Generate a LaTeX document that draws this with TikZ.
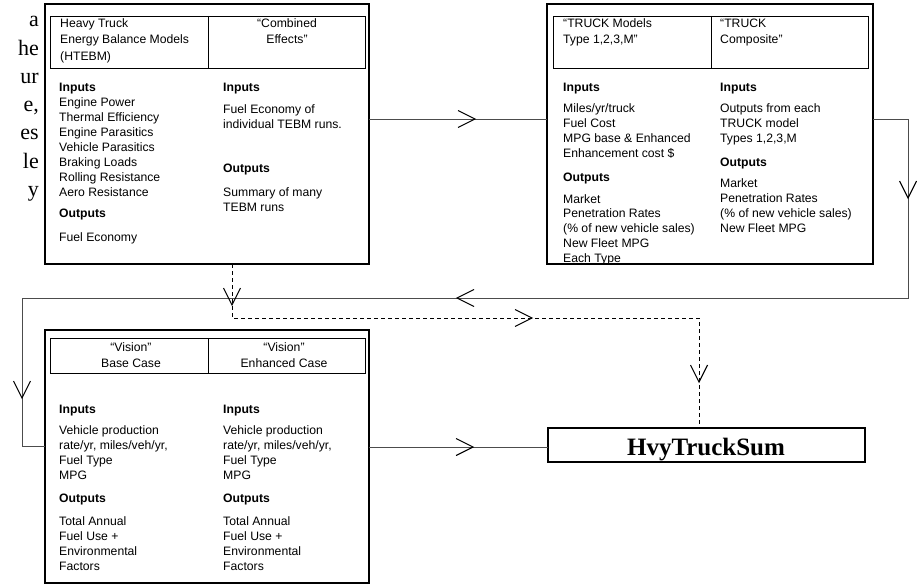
\documentclass[tikz,border=0pt]{standalone}
\usepackage{fontspec}
\setmainfont{Liberation Sans}
\newfontfamily\serifp{Liberation Serif}
\usetikzlibrary{decorations.markings}
\begin{document}
\begin{tikzpicture}[x=1pt,y=-1pt,
  txt/.style={anchor=base west, inner sep=0, font=\fontsize{12.2}{14}\selectfont},
  ctxt/.style={anchor=base, inner sep=0, font=\fontsize{12.2}{14}\selectfont},
  hd/.style={anchor=base west, inner sep=0, font=\fontsize{12.2}{14}\selectfont\bfseries},
  obox/.style={draw, line width=2.8pt, outer sep=0, inner sep=0, anchor=north west},
  hbox/.style={draw, line width=0.9pt, outer sep=0, inner sep=0, anchor=north west},
  divline/.style={line width=0.9pt},
  conn/.style={draw=black!70, line width=1pt},
  dconn/.style={draw=black, line width=0.8pt, dash pattern=on 4pt off 3pt},
  chevline/.style={draw=black, solid, line width=1.1pt},
  chevat/.style={postaction={decoration={markings, mark=at position #1 with {\draw[chevline] (-17,8.5) -- (0,0) -- (-17,-8.5);}}, decorate}},
  margin/.style={anchor=base east, inner sep=0, font=\serifp\fontsize{22}{24}\selectfont}]
\useasboundingbox (0,0) rectangle (917,586);

% left margin fragments
\foreach \t [count=\i from 0] in {a,he,ur,{e,},es,le,y}
  \node[margin] (m\i) at (39,{27+28.2*\i}) {\t};

% ---------- Box A texts ----------
\node[txt] (ah1) at (60,28) {Heavy Truck};
\node[txt] (ah2) at (60,44) {Energy Balance Models};
\node[txt] (ah3) at (60,60) {(HTEBM)};
\node[ctxt] (ah4) at (287,28) {“Combined};
\node[ctxt] (ah5) at (287,44) {Effects”};
\node[hd] (ain) at (59,91) {Inputs};
\foreach \t [count=\i from 0] in {Engine Power, Thermal Efficiency, Engine Parasitics, Vehicle Parasitics, Braking Loads, Rolling Resistance, Aero Resistance}
  \node[txt] (al\i) at (59,{106+15*\i}) {\t};
\node[hd] (aout) at (59,217) {Outputs};
\node[txt] (ao1) at (59,241) {Fuel Economy};
\node[hd] (ain2) at (223,91) {Inputs};
\node[txt] (ar1) at (223,113) {Fuel Economy of};
\node[txt] (ar2) at (223,128) {individual TEBM runs.};
\node[hd] (aout2) at (223,172) {Outputs};
\node[txt] (ar3) at (223,196) {Summary of many};
\node[txt] (ar4) at (223,211) {TEBM runs};

% ---------- Box B texts ----------
\node[txt] (bh1) at (563,28) {“TRUCK Models};
\node[txt] (bh2) at (563,44) {Type 1,2,3,M”};
\node[txt] (bh3) at (720,28) {“TRUCK};
\node[txt] (bh4) at (720,44) {Composite”};
\node[hd] (bin) at (563,91) {Inputs};
\foreach \t [count=\i from 0] in {Miles/yr/truck, Fuel Cost, MPG base \& Enhanced, Enhancement cost \$}
  \node[txt] (bl\i) at (563,{112+15.3*\i}) {\t};
\node[hd] (bout) at (563,181) {Outputs};
\foreach \t [count=\i from 0] in {Market, Penetration Rates, (\% of new vehicle sales), New Fleet MPG, Each Type}
  \node[txt] (bo\i) at (563,{203+14.8*\i}) {\t};
\node[hd] (bin2) at (720,91) {Inputs};
\foreach \t [count=\i from 0] in {Outputs from each, TRUCK model, {Types 1,2,3,M}}
  \node[txt] (br\i) at (720,{112+15.3*\i}) {\t};
\node[hd] (bout2) at (720,166) {Outputs};
\foreach \t [count=\i from 0] in {Market, Penetration Rates, (\% of new vehicle sales), New Fleet MPG}
  \node[txt] (bp\i) at (720,{187+15.3*\i}) {\t};

% ---------- Box C texts ----------
\node[ctxt] (ch1) at (131,351) {“Vision”};
\node[ctxt] (ch2) at (131,367) {Base Case};
\node[ctxt] (ch3) at (284,351) {“Vision”};
\node[ctxt] (ch4) at (284,367) {Enhanced Case};
\foreach \x/\n in {59/l,223/r}{
  \node[hd] (cin\n) at (\x,413) {Inputs};
  \foreach \t [count=\i from 0] in {Vehicle production, {rate/yr, miles/veh/yr,}, Fuel Type, MPG}
    \node[txt] (c\n\i) at (\x,{434+15*\i}) {\t};
  \node[hd] (cout\n) at (\x,502) {Outputs};
  \foreach \t [count=\i from 0] in {Total Annual, Fuel Use +, Environmental, Factors}
    \node[txt] (co\n\i) at (\x,{525+15*\i}) {\t};
}

% ---------- boxes ----------
\node[obox, minimum width=324pt, minimum height=260pt] (A) at (45,4) {};
\node[hbox, minimum width=315pt, minimum height=52pt] (Ah) at (50,16) {};
\draw[divline] (208,16) -- (208,68);

\node[obox, minimum width=326pt, minimum height=260pt] (B) at (547,4) {};
\node[hbox, minimum width=315pt, minimum height=52pt] (Bh) at (553,16) {};
\draw[divline] (711,16) -- (711,68);

\node[obox, minimum width=324pt, minimum height=253pt] (C) at (45,330) {};
\node[hbox, minimum width=315pt, minimum height=35pt] (Ch) at (50,338) {};
\draw[divline] (208,338) -- (208,373);

\node[obox, line width=2.4pt, minimum width=317pt, minimum height=34pt] (D) at (548,428) {};
\node[anchor=base, inner sep=0, font=\serifp\bfseries\fontsize{25}{28}\selectfont] (dt) at (706,455) {HvyTruckSum};

% ---------- connectors ----------
\coordinate (ab) at (0,119);
\draw[conn, chevat=106pt] (A.east |- ab) -- (B.west |- ab);

\coordinate (r1) at (908,119);
\coordinate (r2) at (908,298);
\coordinate (r3) at (22,298);
\coordinate (r4) at (22,446);
\draw[conn, chevat=114pt, chevat=665pt, chevat=1200pt] (B.east |- ab) -- (r1) -- (r2) -- (r3) -- (r4) -- (C.west |- r4);

\coordinate (d1) at (232,318);
\coordinate (d2) at (699,318);
\draw[dconn, chevat=41pt, chevat=354pt, chevat=585pt] (A.south -| d1) -- (d1) -- (d2) -- (D.north -| d2);

\coordinate (cd) at (0,447);
\draw[conn, chevat=104pt] (C.east |- cd) -- (D.west |- cd);
\end{tikzpicture}
\end{document}
